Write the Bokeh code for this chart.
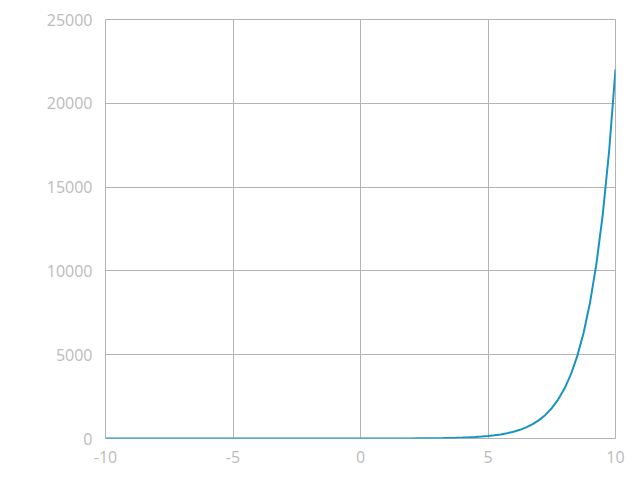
from bokeh.plotting import figure
from bokeh.models import FixedTicker
from bokeh.embed import file_html
from bokeh.resources import INLINE

x_vals = [i * 0.25 for i in range(-40, 41)]
y_vals = [
    0.0000, 0.0001, 0.0001, 0.0001, 0.0001, 0.0002, 0.0002, 0.0003, 0.0003, 0.0004,
    0.0006, 0.0007, 0.0009, 0.0012, 0.0015, 0.0019, 0.0025, 0.0032, 0.0041, 0.0052,
    0.0067, 0.0087, 0.0111, 0.0143, 0.0183, 0.0235, 0.0302, 0.0388, 0.0498, 0.0639,
    0.0821, 0.1054, 0.1353, 0.1738, 0.2231, 0.2865, 0.3679, 0.4724, 0.6065, 0.7788,
    1.0, 1.284, 1.6487, 2.117, 2.7183, 3.4903, 4.4817, 5.7546, 7.3891, 9.4877,
    12.1825, 15.6426, 20.0855, 25.79, 33.115, 42.521, 54.598, 70.105, 90.017, 115.58,
    148.41, 190.57, 244.69, 314.19, 403.43, 518.01, 665.14, 854.06, 1096.6, 1408.1,
    1808.0, 2321.6, 2981.0, 3827.6, 4914.8, 6310.7, 8103.1, 10405.0, 13360.0, 17154.0,
    22026.0,
]
x_ticks = [-10, -5, 0, 5, 10]
x_labels = ["-10", "-5", "0", "5", "10"]
y_ticks = [0, 5000, 10000, 15000, 20000, 25000]

p = figure(
    frame_width=510, frame_height=419,
    x_range=(-10, 10), y_range=(0, 25000),
    output_backend="svg", toolbar_location=None,
    min_border_left=105, min_border_top=19, min_border_right=17, min_border_bottom=34,
)
p.outline_line_color = "#b4b4b4"
p.outline_line_width = 1
p.background_fill_color = "white"
p.border_fill_color = "white"

for ax in (p.xaxis[0], p.yaxis[0]):
    ax.axis_line_color = None
    ax.major_tick_line_color = None
    ax.minor_tick_line_color = None
    ax.major_label_text_color = "#bbbbbb"
    ax.major_label_text_font = "Open Sans"
    ax.major_label_text_font_size = "16px"
p.xaxis[0].ticker = FixedTicker(ticks=x_ticks)
p.xaxis[0].major_label_overrides = {t: s for t, s in zip(x_ticks, x_labels)}
p.yaxis[0].ticker = FixedTicker(ticks=y_ticks)
p.xaxis[0].major_label_standoff = 6
p.yaxis[0].major_label_standoff = 7

p.xgrid[0].ticker = FixedTicker(ticks=x_ticks)
p.ygrid[0].ticker = FixedTicker(ticks=y_ticks)
for g in (p.xgrid[0], p.ygrid[0]):
    g.grid_line_color = "#b4b4b4"
    g.grid_line_alpha = 1.0
    g.grid_line_width = 1

p.line(x_vals, y_vals, line_color="#1795c0", line_width=2)

open("out.html", "w").write(file_html(p, INLINE))
